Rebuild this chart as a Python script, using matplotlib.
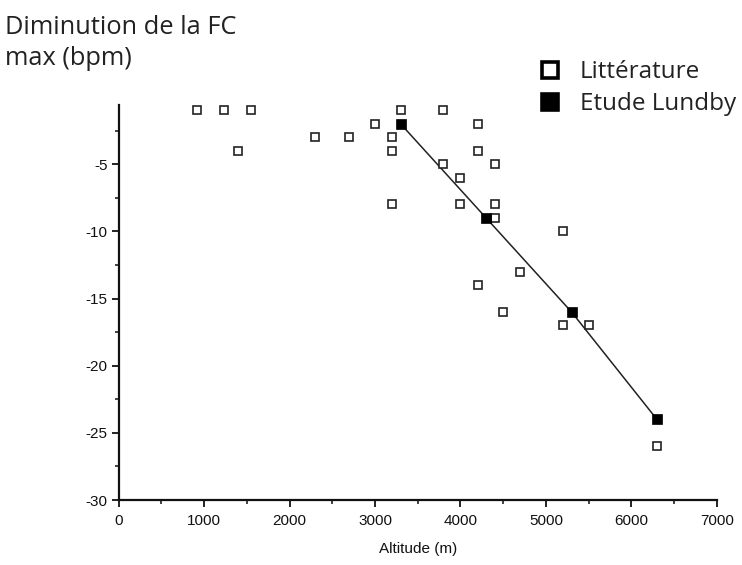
import matplotlib.pyplot as plt
from matplotlib.lines import Line2D
from matplotlib.ticker import MultipleLocator

plt.rcParams['axes.unicode_minus'] = False
plt.rcParams['font.family'] = 'Liberation Sans'

# ── Data ──────────────────────────────────────────────────────────────────────
lit_alt = [920, 1230, 1550, 1400, 2300, 2700, 3000, 3200, 3200, 3200, 3300,
           3800, 4200, 4200, 3800, 4400, 4000, 4000, 4400, 4400, 5200, 4700,
           4200, 4500, 5200, 5500, 6300]
lit_fc = [-1, -1, -1, -4, -3, -3, -2, -3, -4, -8, -1,
          -1, -2, -4, -5, -5, -6, -8, -8, -9, -10, -13,
          -14, -16, -17, -17, -26]

lundby_alt = [3300, 4300, 5300, 6300]
lundby_fc = [-2, -9, -16, -24]

x_ticks = [0, 1000, 2000, 3000, 4000, 5000, 6000, 7000]
y_ticks = [-30, -25, -20, -15, -10, -5]
legend_labels = ['Littérature', 'Etude Lundby']

# ── Figure ────────────────────────────────────────────────────────────────────
W, H = 742, 565
fig = plt.figure(figsize=(W / 100, H / 100), dpi=100, facecolor='white')
ax = fig.add_axes([0.160, 0.115, 0.806, 0.699])

ax.plot(lundby_alt, lundby_fc, color='#222222', lw=1.1, zorder=2)
ax.plot(lit_alt, lit_fc, ls='none', marker='s', ms=5.6, mfc='white',
        mec='#222222', mew=1.2, zorder=3)
ax.plot(lundby_alt, lundby_fc, ls='none', marker='s', ms=6.5, mfc='black',
        mec='black', mew=0.5, zorder=4)

ax.set_xlim(0, 7000)
ax.set_ylim(-30, -0.6)
ax.set_xticks(x_ticks)
ax.set_yticks(y_ticks)
ax.xaxis.set_minor_locator(MultipleLocator(500))
ax.yaxis.set_minor_locator(MultipleLocator(2.5))

for s in ['top', 'right']:
    ax.spines[s].set_visible(False)
for s in ['left', 'bottom']:
    ax.spines[s].set_linewidth(1.6)
    ax.spines[s].set_color('#111111')

ax.tick_params(which='major', direction='out', length=5, width=1.3,
               labelsize=11, colors='#111111', pad=3)
ax.tick_params(axis='x', which='major', pad=5)
ax.tick_params(which='minor', direction='out', length=3, width=1.1,
               colors='#111111')

ax.set_xlabel('Altitude (m)', fontsize=11, labelpad=10, color='#111111')

# ── Y label (top-left) ────────────────────────────────────────────────────────
fig.text(5 / W, 1 - 34 / H, 'Diminution de la FC', ha='left', va='baseline',
         fontsize=18.3, family='Open Sans', color='#222222')
fig.text(5 / W, 1 - 65 / H, 'max (bpm)', ha='left', va='baseline',
         fontsize=18.3, family='Open Sans', color='#222222')

# ── Legend (drawn by hand) ────────────────────────────────────────────────────
legend_rows = [(70, 'white'), (102, 'black')]
for (yc, face), label in zip(legend_rows, legend_labels):
    fig.add_artist(Line2D([550 / W], [1 - yc / H], transform=fig.transFigure,
                          ls='none', marker='s', ms=12, mfc=face, mec='black',
                          mew=2.6))
    fig.text(580 / W, 1 - (yc + 8) / H, label, ha='left', va='baseline',
             fontsize=17.5, family='Open Sans', color='#222222')

fig.savefig('out.png', dpi=100, facecolor='white')
